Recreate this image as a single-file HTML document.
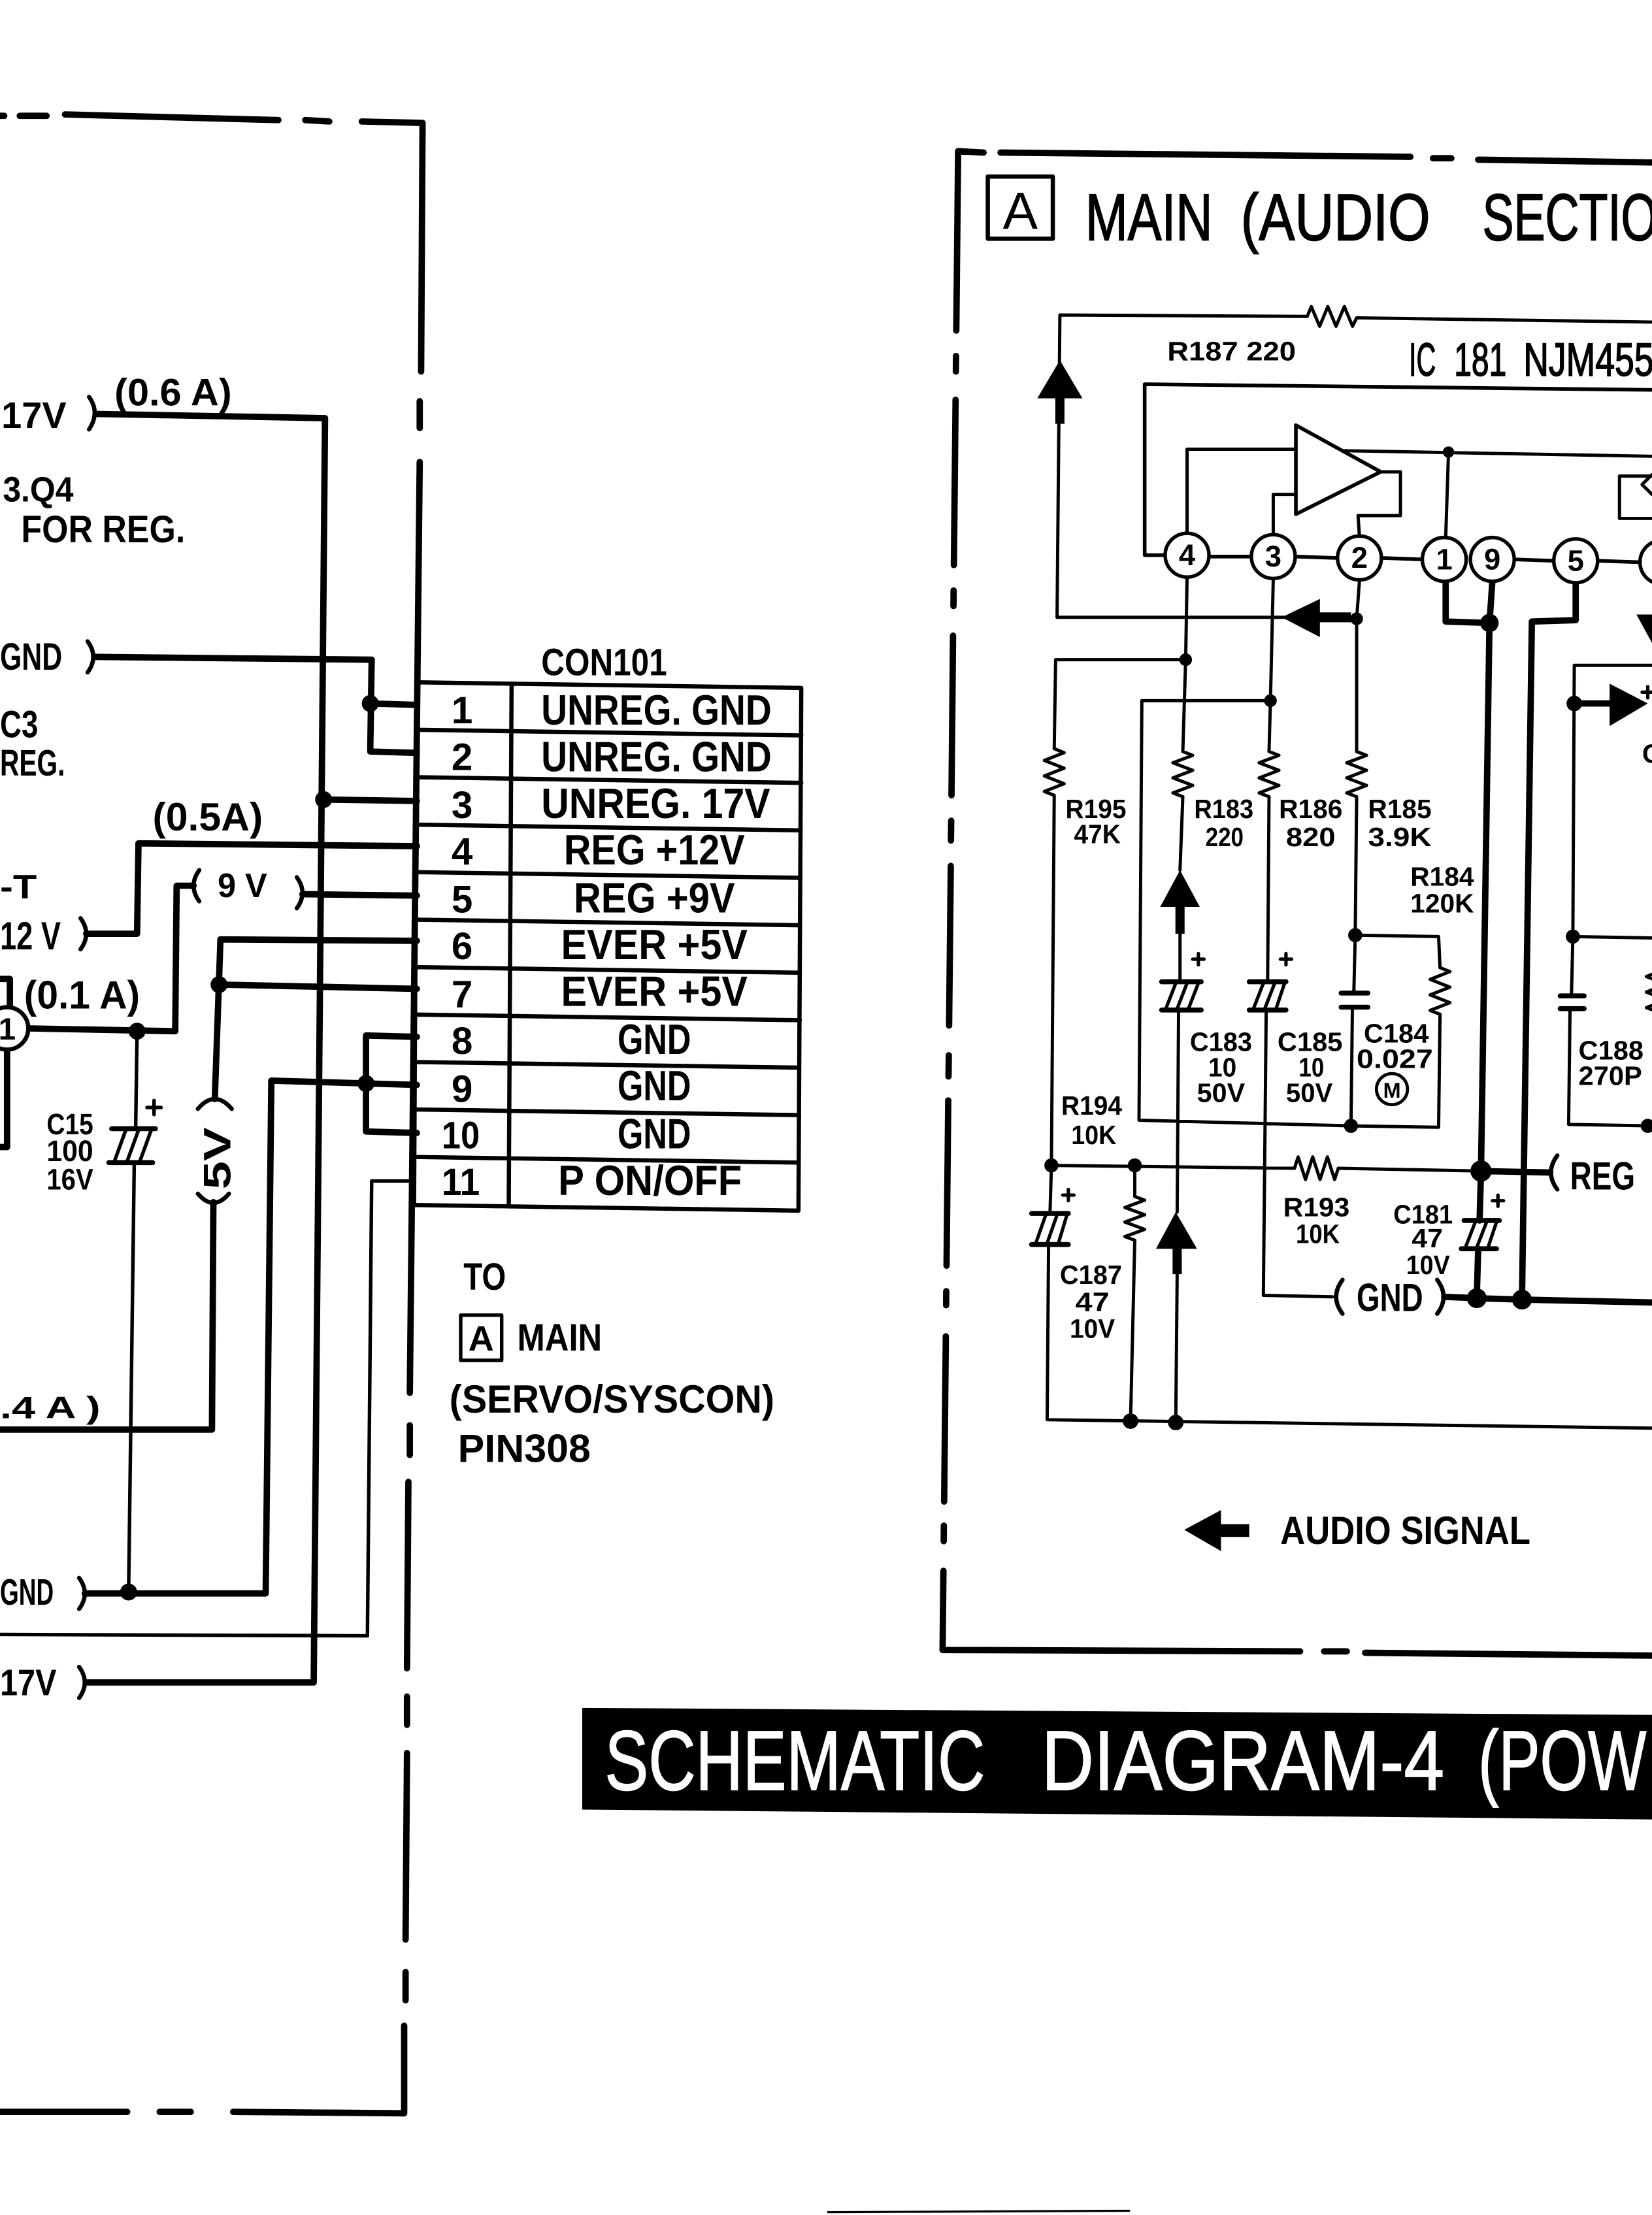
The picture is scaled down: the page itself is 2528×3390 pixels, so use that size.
<!DOCTYPE html>
<html><head><meta charset="utf-8"><style>
html,body{margin:0;padding:0;background:#fff;overflow:hidden}
svg{display:block}
text{font-family:"Liberation Sans",Arial,sans-serif;font-weight:bold;fill:#000}
.n{font-weight:normal}
</style></head><body>
<svg xmlns="http://www.w3.org/2000/svg" width="2528" height="3390" viewBox="0 0 1169 1568" preserveAspectRatio="none">
<rect width="1169" height="1568" fill="#fff"/>
<g fill="none" stroke="#000" stroke-linecap="round" stroke-linejoin="round">
<!-- left section dashed border -->
<path stroke-width="4.5" d="M0,82 L3,82 M14,82 L33,82 M46,81 L197,85 M216,85 L233,86 M256,86 L299,87 L298,263 M297,284 L297,303 M297,327 L290,986 M290,1009 L290,1030 M289,1049 L288,1181 M288,1201 L288,1221 M288,1241 L287,1373 M287,1396 L287,1416 M286,1434 L286,1496 L165,1495 M135,1495 L113,1495 M90,1495 L0,1495"/>
<!-- right section dashed border -->
<path stroke-width="4.5" d="M696,108 L678,107 L676.7,234 M676.5,252 L676.4,263 M676.2,283 L675,400 M674.8,418 L674.7,429 M674.4,450 L673.3,563 M673.1,581 L672.9,595 M672.8,613 L671.6,726 M671.4,747 L671.2,762 M671,779 L669.8,896 M669.6,914 L669.5,924 M669.3,946 L668.1,1063 M667.9,1080 L667.8,1091 M667.6,1112 L667,1168 L920,1169 M937,1169 L953,1169 M966,1170 L1169,1172 M708,108 L998,111 M1014,112 L1027,112 M1046,113 L1169,115"/>
<!-- connector box -->
<path stroke-width="3" d="M295,483 L567,487 L565,857 L293,853 Z M295,516.6 L567,520.6 M295,550.2 L567,554.2 M294.5,583.8 L566.5,587.8 M294.5,617.4 L566.5,621.4 M294,651 L566,655 M294,684.6 L566,688.6 M294,718.2 L566,722.2 M293.5,751.8 L565.5,755.8 M293.5,785.4 L565.5,789.4 M293,819 L565,823 M362,484 L360,854"/>
<!-- left thick wires -->
<path stroke-width="4.5" d="M68,293 L230,296 L222,1191 L62,1191 M229,566 L295,567 M67,465 L263,467 L262,532 L295,533 M262,498 L295,499 M61,661 L97,661 L98,597 L295,599 M214,633 L295,634 M137,627 L125,627 L124,730 L20,728 M295,666 L156,665 L152,778 M155,697 L295,700 M151,851 L150,1012 L0,1012 M60,1128 L188,1128 L192,765 L295,768 M295,734 L259,733 L259,801 L295,802 M5,743 L5,812 L0,812 M0,693 L7,693 L7,712"/>
<!-- left thin wires -->
<path stroke-width="2.5" d="M97,730 L96,799 M95,823 L91,1127 M293,836 L263,836 L260,1158 L0,1157"/>
<!-- brackets left -->
<path stroke-width="3" d="M63,281 Q71,292 63,304 M62,454 Q70,465 62,476 M57,650 Q65,661 57,672 M56,1117 Q64,1128 56,1139 M56,1180 Q64,1191 56,1202 M210,621 Q218,632 210,643 M141,616 Q133,627 141,638 M140,785 Q152,771 164,785 M140,845 Q151,858 162,845"/>
<!-- C15 -->
<path stroke-width="3.5" d="M79,799 L110,799 M77,823 L108,823"/>
<path stroke-width="2.5" d="M81,822 L89,800 M90,822 L98,800 M99,822 L107,800 M104,784 L114,784 M109,779 L109,789"/>
<circle cx="5" cy="728" r="15" stroke-width="3" fill="#fff"/>

<!-- right section thin wires -->
<path stroke-width="2.3" d="M748,437 L750,223 L925,224 L927.9,217 L933.8,231 L939.6,217 L945.4,231 L951.3,217 L957.1,231 L960,225 L1169,228 M748,437 L910,437"/>
<path stroke-width="2.6" d="M1169,276 L810,272 L810,393 L825,393 M856,394 L885,394 M917,394 L946,395 M978,395 L1007,396 M1072,396 L1100,397 M1131,397 L1160,398"/>
<path stroke-width="2.3" d="
M840,409 L839,467 L837,532 L844,534.7 L830,540 L844,545.3 L830,550.7 L844,556 L830,561.3 L837,564 L835,616 M835,661 L835,695 M834,715 L833,858 M833,902 L832,1007
M839,467 L747,467 L746,530 L753,532.8 L739,538.3 L753,543.8 L739,549.3 L753,554.8 L739,560.3 L746,563 L744,826 L743,859 M742,881 L741,1005 L1169,1011
M901,410 L899,496 L898,532 L905,534.7 L891,540 L905,545.3 L891,550.7 L905,556 L891,561.3 L898,564 L897,695 M896,715 L894,917 L943,918
M899,496 L808,496 L806,793 L956,797 L1018,798 L1019,718 L1012,715.3 L1026,709.8 L1012,704.3 L1026,698.8 L1012,693.3 L1026,687.8 L1019,685 L1018,663 L959,662
M962,411 L960,438 L960,532 L967,534.7 L953,540 L967,545.3 L953,550.7 L967,556 L953,561.3 L960,564 L959,662 L958,703 M957,713 L956,797
M744,825 L916,827 L918.6,819 L923.8,835 L928.9,819 L934.1,835 L939.3,819 L944.4,835 L947,827 L1048,829
M803,825 L803,847 L810,849.6 L796,854.8 L810,859.9 L796,865.1 L810,870.3 L796,875.4 L803,878 L800,1006
M948,319 L1169,323 M1025,320 L1023,381
M917,318 L840,318 L840,378 M917,350 L901,350 L901,379
M977,334 L991,334 L991,365 L961,365 L962,380
M1169,337 L1146,337 L1146,367 L1169,367 M1169,336 L1162,343 L1169,350
M1169,471 L1114,471 L1113,663 L1112,705 M1111,714 L1110,796 L1169,797
M1113,663 L1172,664 L1172,683 L1179,685.8 L1165,691.3 L1179,696.8 L1165,702.3 L1179,707.8 L1165,713.3 L1172,716 L1172,760"/>
<!-- right thick wires -->
<path stroke-width="4.5" d="M1023,411 L1023,440 L1054,441 M1056,412 L1054,441 L1048,829 L1047,864 M1046,884 L1045,919 M1048,829 L1097,830 M1115,413 L1115,439 L1084,440 L1077,920 M1022,918 L1045,919 L1077,920 L1169,922 M1176,413 L1176,436 M1114,498 L1140,498"/>
<!-- arrow shafts -->
<path stroke-width="6.5" stroke-linecap="butt" d="M750,280 L750,300 M835,640 L835,661 M833,882 L833,902"/>
<path stroke-width="7" stroke-linecap="butt" d="M933,437 L956,437"/>
<!-- right brackets -->
<path stroke-width="3" d="M950,906 Q941,918 950,930 M1017,906 Q1026,918 1017,930 M1102,818 Q1093,830 1102,842"/>
<!-- op amp -->
<polygon points="917,301 917,364 977,334" stroke-width="2.6" fill="#fff"/>
<!-- pin circles -->
<g stroke-width="2.5" fill="#fff">
<circle cx="840" cy="393" r="15.5"/><circle cx="901" cy="394" r="15.5"/><circle cx="962" cy="395" r="15.5"/><circle cx="1022" cy="396" r="15.5"/><circle cx="1056" cy="396" r="15.5"/><circle cx="1115" cy="397" r="15.5"/><circle cx="1176" cy="398" r="15.5"/>
</g>
<!-- polarized caps -->
<path stroke-width="3.5" d="M822,695 L850,695 M822,715 L850,715 M884,695 L910,695 M884,715 L910,715 M730,859 L756,859 M730,881 L756,881 M1036,864 L1061,864 M1034,884 L1059,884 M949,703 L968,703 M949,713 L968,713 M1104,705 L1121,705 M1104,714 L1121,714"/>
<path stroke-width="2.4" d="M825,714 L832,696 M833,714 L840,696 M841,714 L848,696 M887,714 L894,696 M895,714 L902,696 M903,714 L909,696 M733,880 L740,860 M741,880 L748,860 M749,880 L755,860 M1037,883 L1044,865 M1045,883 L1052,865 M1053,883 L1059,865
M844,679 L852,679 M848,675 L848,683 M906,679 L914,679 M910,675 L910,683 M752,846 L760,846 M756,842 L756,850 M1056,850 L1064,850 M1060,846 L1060,854 M1162,490 L1170,490 M1166,486 L1166,494"/>
<circle cx="985" cy="771" r="11" stroke-width="2.2"/>
<!-- title box A -->
<rect x="699" y="125" width="46" height="44" stroke-width="3"/>
<rect x="326" y="931" width="29" height="32" stroke-width="2.5"/>
<path stroke-width="1.5" d="M586,1566 L799,1565"/>
</g>
<!-- arrows filled -->
<g fill="#000">
<polygon points="750,255 734,282 766,282"/>
<polygon points="907,437 934,424 934,451"/>
<polygon points="835,616 821,642 849,642"/>
<polygon points="832,858 818,884 847,884"/>
<polygon points="1139,484 1139,514 1166,498"/>
<polygon points="1158,435 1194,435 1176,468"/>
<polygon points="838,1083 864,1069 864,1098"/>
<rect x="862" y="1079" width="22" height="9"/>
<!-- dots -->
<circle cx="262" cy="498" r="6"/><circle cx="229" cy="566" r="6"/><circle cx="97" cy="730" r="6"/><circle cx="155" cy="697" r="6"/><circle cx="259" cy="767" r="6"/><circle cx="91" cy="1127" r="6"/>
<circle cx="960" cy="438" r="4.5"/><circle cx="839" cy="467" r="4.5"/><circle cx="899" cy="496" r="4.5"/><circle cx="959" cy="662" r="5"/><circle cx="956" cy="797" r="5"/><circle cx="1025" cy="320" r="4"/><circle cx="1054" cy="441" r="6.5"/><circle cx="1048" cy="829" r="7.5"/><circle cx="1045" cy="919" r="7"/><circle cx="1077" cy="920" r="7"/><circle cx="744" cy="825" r="5"/><circle cx="803" cy="825" r="5"/><circle cx="800" cy="1006" r="5.5"/><circle cx="832" cy="1007" r="5.5"/><circle cx="1113" cy="663" r="5"/><circle cx="1114" cy="498" r="5.5"/><circle cx="1166" cy="797" r="5"/>
<!-- title bar -->
<polygon points="412,1209 1169,1214 1169,1288 412,1281"/>
</g>

<!-- LEFT TEXTS -->
<text x="1" y="303" font-size="26" textLength="46" lengthAdjust="spacingAndGlyphs">17V</text>
<text x="81" y="287" font-size="27" textLength="83" lengthAdjust="spacingAndGlyphs">(0.6 A)</text>
<text x="2" y="355" font-size="25" textLength="50" lengthAdjust="spacingAndGlyphs">3.Q4</text>
<text x="15" y="384" font-size="27" textLength="116" lengthAdjust="spacingAndGlyphs">FOR  REG.</text>
<text x="0" y="474" font-size="27" textLength="44" lengthAdjust="spacingAndGlyphs">GND</text>
<text x="0" y="522" font-size="27" textLength="27" lengthAdjust="spacingAndGlyphs">C3</text>
<text x="0" y="549" font-size="26" textLength="46" lengthAdjust="spacingAndGlyphs">REG.</text>
<text x="108" y="588" font-size="28" textLength="78" lengthAdjust="spacingAndGlyphs">(0.5A)</text>
<text x="0" y="636" font-size="24" textLength="26" lengthAdjust="spacingAndGlyphs">-T</text>
<text x="0" y="672" font-size="28" textLength="43" lengthAdjust="spacingAndGlyphs">12 V</text>
<text x="17" y="714" font-size="28" textLength="82" lengthAdjust="spacingAndGlyphs">(0.1 A)</text>
<text x="154" y="635" font-size="24" textLength="35" lengthAdjust="spacingAndGlyphs">9 V</text>
<text x="5" y="736" font-size="22" text-anchor="middle">1</text>
<text x="33" y="803" font-size="21" textLength="33" lengthAdjust="spacingAndGlyphs">C15</text>
<text x="33" y="822" font-size="21" textLength="33" lengthAdjust="spacingAndGlyphs">100</text>
<text x="33" y="842" font-size="21" textLength="33" lengthAdjust="spacingAndGlyphs">16V</text>
<text transform="translate(163,842) rotate(-90)" x="0" y="0" font-size="27" textLength="44" lengthAdjust="spacingAndGlyphs">5V</text>
<text x="0" y="1004" font-size="22" textLength="71" lengthAdjust="spacingAndGlyphs">.4 A )</text>
<text x="0" y="1136" font-size="26" textLength="38" lengthAdjust="spacingAndGlyphs">GND</text>
<text x="0" y="1200" font-size="26" textLength="40" lengthAdjust="spacingAndGlyphs">17V</text>
<text x="383" y="478" font-size="27" textLength="89" lengthAdjust="spacingAndGlyphs">CON101</text>
<!-- connector numbers -->
<g font-size="27" text-anchor="middle">
<text x="327" y="512">1</text><text x="327" y="545">2</text><text x="327" y="579">3</text><text x="327" y="612">4</text><text x="327" y="646">5</text><text x="327" y="679">6</text><text x="327" y="713">7</text><text x="327" y="746">8</text><text x="327" y="780">9</text>
<text x="326" y="813" textLength="27" lengthAdjust="spacingAndGlyphs">10</text><text x="326" y="846" textLength="27" lengthAdjust="spacingAndGlyphs">11</text>
</g>
<g font-size="30">
<text x="383" y="513" textLength="163" lengthAdjust="spacingAndGlyphs">UNREG.  GND</text>
<text x="383" y="546" textLength="163" lengthAdjust="spacingAndGlyphs">UNREG.  GND</text>
<text x="383" y="579" textLength="162" lengthAdjust="spacingAndGlyphs">UNREG.  17V</text>
<text x="399" y="612" textLength="128" lengthAdjust="spacingAndGlyphs">REG  +12V</text>
<text x="406" y="646" textLength="114" lengthAdjust="spacingAndGlyphs">REG  +9V</text>
<text x="397" y="679" textLength="132" lengthAdjust="spacingAndGlyphs">EVER  +5V</text>
<text x="397" y="712" textLength="132" lengthAdjust="spacingAndGlyphs">EVER  +5V</text>
<text x="437" y="746" textLength="52" lengthAdjust="spacingAndGlyphs">GND</text>
<text x="437" y="779" textLength="52" lengthAdjust="spacingAndGlyphs">GND</text>
<text x="437" y="813" textLength="52" lengthAdjust="spacingAndGlyphs">GND</text>
<text x="395" y="846" textLength="130" lengthAdjust="spacingAndGlyphs">P  ON/OFF</text>
</g>
<text x="328" y="913" font-size="27" textLength="30" lengthAdjust="spacingAndGlyphs">TO</text>
<text x="340.5" y="956" font-size="25" text-anchor="middle">A</text>
<text x="366" y="956" font-size="27" textLength="60" lengthAdjust="spacingAndGlyphs">MAIN</text>
<text x="318" y="1000" font-size="28" textLength="230" lengthAdjust="spacingAndGlyphs">(SERVO/SYSCON)</text>
<text x="324" y="1035" font-size="28" textLength="94" lengthAdjust="spacingAndGlyphs">PIN308</text>

<!-- RIGHT TEXTS -->
<text class="n" x="722" y="162" font-size="37" text-anchor="middle">A</text>
<text class="n" x="768" y="170" font-size="47" textLength="90" lengthAdjust="spacingAndGlyphs" stroke="#000" stroke-width="0.8">MAIN</text>
<text class="n" x="878" y="170" font-size="47" textLength="134" lengthAdjust="spacingAndGlyphs" stroke="#000" stroke-width="0.8">(AUDIO</text>
<text class="n" x="1049" y="170" font-size="47" textLength="148" lengthAdjust="spacingAndGlyphs" stroke="#000" stroke-width="0.8">SECTION</text>
<text x="826" y="255" font-size="19" textLength="91" lengthAdjust="spacingAndGlyphs">R187  220</text>
<text class="n" x="997" y="266" font-size="33" textLength="19" lengthAdjust="spacingAndGlyphs" stroke="#000" stroke-width="0.8">IC</text>
<text class="n" x="1029" y="266" font-size="33" textLength="37" lengthAdjust="spacingAndGlyphs" stroke="#000" stroke-width="0.8">181</text>
<text class="n" x="1078" y="266" font-size="33" textLength="106" lengthAdjust="spacingAndGlyphs" stroke="#000" stroke-width="0.8">NJM4559</text>
<g font-size="21" text-anchor="middle">
<text x="840" y="400">4</text><text x="901" y="401">3</text><text x="962" y="402">2</text><text x="1022" y="403">1</text><text x="1056" y="403">9</text><text x="1115" y="404">5</text>
</g>
<g font-size="19">
<text x="754" y="579" textLength="43" lengthAdjust="spacingAndGlyphs">R195</text>
<text x="760" y="597" textLength="33" lengthAdjust="spacingAndGlyphs">47K</text>
<text x="845" y="579" textLength="42" lengthAdjust="spacingAndGlyphs">R183</text>
<text x="853" y="599" textLength="27" lengthAdjust="spacingAndGlyphs">220</text>
<text x="905" y="579" textLength="45" lengthAdjust="spacingAndGlyphs">R186</text>
<text x="910" y="599" textLength="35" lengthAdjust="spacingAndGlyphs">820</text>
<text x="968" y="579" textLength="45" lengthAdjust="spacingAndGlyphs">R185</text>
<text x="968" y="599" textLength="45" lengthAdjust="spacingAndGlyphs">3.9K</text>
<text x="998" y="627" textLength="45" lengthAdjust="spacingAndGlyphs">R184</text>
<text x="998" y="646" textLength="45" lengthAdjust="spacingAndGlyphs">120K</text>
<text x="842" y="744" textLength="44" lengthAdjust="spacingAndGlyphs">C183</text>
<text x="855" y="762" textLength="20" lengthAdjust="spacingAndGlyphs">10</text>
<text x="847" y="780" textLength="34" lengthAdjust="spacingAndGlyphs">50V</text>
<text x="904" y="744" textLength="46" lengthAdjust="spacingAndGlyphs">C185</text>
<text x="919" y="762" textLength="18" lengthAdjust="spacingAndGlyphs">10</text>
<text x="910" y="780" textLength="33" lengthAdjust="spacingAndGlyphs">50V</text>
<text x="965" y="738" textLength="46" lengthAdjust="spacingAndGlyphs">C184</text>
<text x="960" y="756" textLength="54" lengthAdjust="spacingAndGlyphs">0.027</text>
<text x="1117" y="750" textLength="46" lengthAdjust="spacingAndGlyphs">C188</text>
<text x="1117" y="768" textLength="45" lengthAdjust="spacingAndGlyphs">270P</text>
<text x="751" y="789" textLength="43" lengthAdjust="spacingAndGlyphs">R194</text>
<text x="758" y="810" textLength="32" lengthAdjust="spacingAndGlyphs">10K</text>
<text x="908" y="861" textLength="47" lengthAdjust="spacingAndGlyphs">R193</text>
<text x="917" y="880" textLength="31" lengthAdjust="spacingAndGlyphs">10K</text>
<text x="750" y="909" textLength="44" lengthAdjust="spacingAndGlyphs">C187</text>
<text x="761" y="928" textLength="24" lengthAdjust="spacingAndGlyphs">47</text>
<text x="757" y="947" textLength="32" lengthAdjust="spacingAndGlyphs">10V</text>
<text x="986" y="866" textLength="42" lengthAdjust="spacingAndGlyphs">C181</text>
<text x="999" y="883" textLength="22" lengthAdjust="spacingAndGlyphs">47</text>
<text x="995" y="902" textLength="31" lengthAdjust="spacingAndGlyphs">10V</text>
<text x="1162" y="540" font-size="19">C</text>
</g>
<text x="985" y="777" font-size="15" text-anchor="middle">M</text>
<text x="1111" y="842" font-size="28" textLength="46" lengthAdjust="spacingAndGlyphs">REG</text>
<text x="960" y="928" font-size="28" textLength="47" lengthAdjust="spacingAndGlyphs">GND</text>
<text x="906" y="1093" font-size="28" textLength="177" lengthAdjust="spacingAndGlyphs">AUDIO SIGNAL</text>

<!-- title bar text -->
<g font-size="60" style="fill:#fff" stroke="#fff" stroke-width="0.8">
<text class="n" x="428" y="1267" textLength="269" lengthAdjust="spacingAndGlyphs" style="fill:#fff">SCHEMATIC</text>
<text class="n" x="737" y="1267" textLength="285" lengthAdjust="spacingAndGlyphs" style="fill:#fff">DIAGRAM-4</text>
<text class="n" x="1046" y="1267" textLength="119" lengthAdjust="spacingAndGlyphs" style="fill:#fff">(POW</text>
</g>
</svg>
</body></html>
